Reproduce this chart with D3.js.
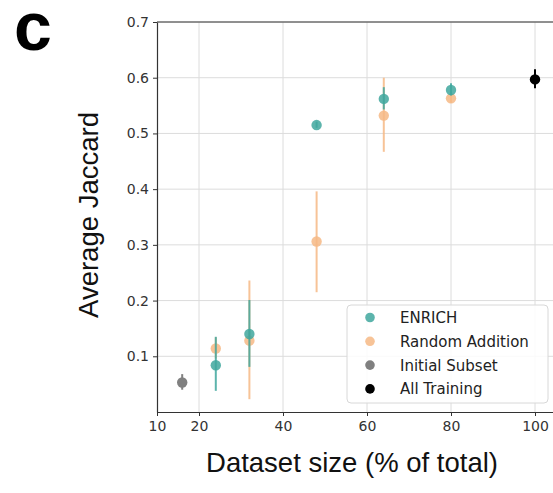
<!DOCTYPE html>
<html>
<head>
<meta charset="utf-8">
<script src="https://cdn.jsdelivr.net/npm/d3@7"></script>
<style>
  body { margin: 0; background: #fff; }
  svg { display: block; }
</style>
</head>
<body>
<div id="chart"></div>
<script>
// data
const enrichX = [24, 32, 48, 64, 80];
const enrichY = [0.084, 0.140, 0.515, 0.562, 0.578];
const enrichLo = [0.038, 0.081, 0.510, 0.543, 0.568];
const enrichHi = [0.135, 0.201, 0.521, 0.583, 0.590];

const randomX = [24, 32, 48, 64, 80];
const randomY = [0.114, 0.128, 0.306, 0.532, 0.563];
const randomLo = [0.096, 0.023, 0.215, 0.467, 0.555];
const randomHi = [0.134, 0.236, 0.396, 0.600, 0.575];

const initialX = [16];
const initialY = [0.053];
const initialLo = [0.040];
const initialHi = [0.068];

const allX = [100];
const allY = [0.597];
const allLo = [0.581];
const allHi = [0.615];

const xTicks = [10, 20, 40, 60, 80, 100];
const yTicks = [0.1, 0.2, 0.3, 0.4, 0.5, 0.6, 0.7];
const legendNames = ["ENRICH", "Random Addition", "Initial Subset", "All Training"];

const WIDTH = 553;
const HEIGHT = 493;
const LEFT = 157, TOP = 22, BOTTOM = 412;

const TEAL = "#3fa79d";
const PEACH = "#f6b885";
const GRAY = "#808080";
const BLACK = "#000000";

const svg = d3.select("#chart").append("svg")
  .attr("width", WIDTH).attr("height", HEIGHT);

const x = d3.scaleLinear().domain([10, 105]).range([LEFT, 556]);
const y = d3.scaleLinear().domain([0, 0.7]).range([BOTTOM, TOP]);

// grid
svg.append("g").selectAll("line").data(xTicks.slice(1)).join("line")
  .attr("x1", d => x(d)).attr("x2", d => x(d))
  .attr("y1", TOP).attr("y2", BOTTOM)
  .attr("stroke", "#dcdcdc").attr("stroke-width", 1);
svg.append("g").selectAll("line").data(yTicks).join("line")
  .attr("x1", LEFT).attr("x2", WIDTH)
  .attr("y1", d => y(d)).attr("y2", d => y(d))
  .attr("stroke", "#dcdcdc").attr("stroke-width", 1);

// axes
const xAxis = svg.append("g")
  .attr("transform", `translate(0,${BOTTOM})`)
  .call(d3.axisBottom(x).tickValues(xTicks).tickSize(4).tickPadding(5).tickSizeOuter(0));
const yAxis = svg.append("g")
  .attr("transform", `translate(${LEFT},0)`)
  .call(d3.axisLeft(y).tickValues(yTicks).tickFormat(d3.format(".1f")).tickSize(4).tickPadding(4).tickSizeOuter(0));

[xAxis, yAxis].forEach(a => {
  a.select(".domain").attr("stroke", "#333").attr("stroke-width", 1.2);
  a.selectAll(".tick line").attr("stroke", "#333");
  a.selectAll(".tick text")
    .attr("font-family", "DejaVu Sans")
    .attr("font-size", "14px")
    .attr("fill", "#333");
});

// top spine
svg.append("line")
  .attr("x1", LEFT).attr("x2", WIDTH)
  .attr("y1", TOP).attr("y2", TOP)
  .attr("stroke", "#333").attr("stroke-width", 1.2);

// series
function drawSeries(xs, ys, lo, hi, color, opacity) {
  const g = svg.append("g");
  g.selectAll("line").data(xs).join("line")
    .attr("x1", d => x(d)).attr("x2", d => x(d))
    .attr("y1", (d, i) => y(lo[i])).attr("y2", (d, i) => y(hi[i]))
    .attr("stroke", color).attr("stroke-width", 2)
    .attr("stroke-opacity", opacity);
  g.selectAll("circle").data(xs).join("circle")
    .attr("cx", d => x(d)).attr("cy", (d, i) => y(ys[i]))
    .attr("r", 5.2)
    .attr("fill", color).attr("fill-opacity", opacity);
}

drawSeries(randomX, randomY, randomLo, randomHi, PEACH, 0.85);
drawSeries(enrichX, enrichY, enrichLo, enrichHi, TEAL, 0.85);
drawSeries(initialX, initialY, initialLo, initialHi, GRAY, 1);
drawSeries(allX, allY, allLo, allHi, BLACK, 1);

// legend
const legendColors = [TEAL, PEACH, GRAY, BLACK];
const legend = svg.append("g").attr("transform", "translate(347,305)");
legend.append("rect")
  .attr("width", 201).attr("height", 98)
  .attr("rx", 4).attr("ry", 4)
  .attr("fill", "#fff").attr("fill-opacity", 0.85)
  .attr("stroke", "#d8d8d8").attr("stroke-width", 1);
const items = legend.selectAll("g.item").data(legendNames).join("g")
  .attr("class", "item")
  .attr("transform", (d, i) => `translate(0,${12.5 + i * 23.8})`);
items.append("circle")
  .attr("cx", 23).attr("cy", 0).attr("r", 4.8)
  .attr("fill", (d, i) => legendColors[i])
  .attr("fill-opacity", (d, i) => i < 2 ? 0.85 : 1);
items.append("text")
  .attr("x", 53).attr("y", 0).attr("dy", "0.36em")
  .attr("font-family", "DejaVu Sans").attr("font-size", "15px")
  .attr("fill", "#222")
  .text(d => d);

// axis titles
svg.append("text")
  .attr("x", 352).attr("y", 472)
  .attr("text-anchor", "middle")
  .attr("font-family", "Liberation Sans").attr("font-size", "27.5px")
  .attr("fill", "#111")
  .text("Dataset size (% of total)");

svg.append("text")
  .attr("transform", "translate(98,215) rotate(-90)")
  .attr("text-anchor", "middle")
  .attr("font-family", "Liberation Sans").attr("font-size", "27.5px")
  .attr("fill", "#111")
  .text("Average Jaccard");

// panel letter
svg.append("text")
  .attr("x", 14).attr("y", 50)
  .attr("font-family", "Liberation Sans").attr("font-weight", "bold")
  .attr("font-size", "68px")
  .attr("fill", "#000")
  .text("c");
</script>
</body>
</html>
